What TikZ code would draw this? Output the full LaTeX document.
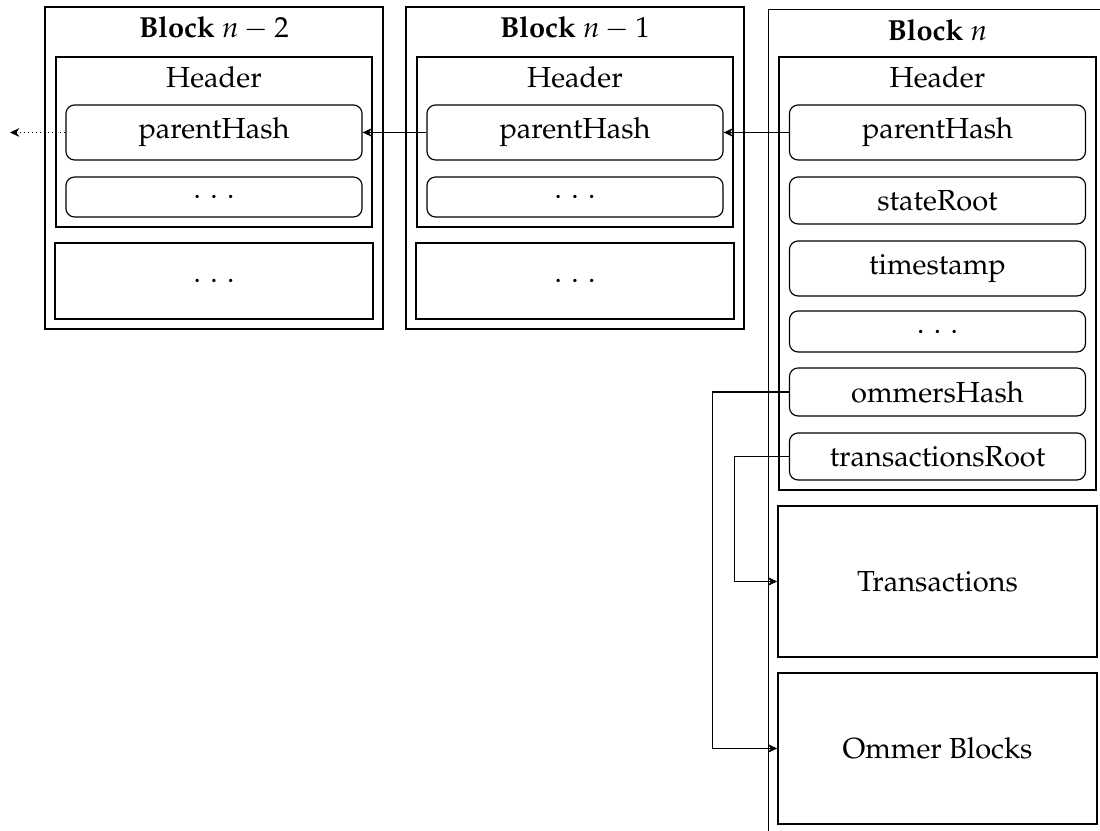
\documentclass[tikz,border=0pt]{standalone}
\usepackage[T1]{fontenc}
\usepackage{mathpazo}
\usetikzlibrary{arrows.meta,positioning}
\newcommand{\wdots}{.\hspace{3.3pt}.\hspace{3.3pt}.}
\tikzset{
  blockbox/.style={draw, line width=0.5pt, minimum width=4.097cm, inner sep=0pt},
  headerbox/.style={draw, line width=0.5pt, minimum width=3.830cm, inner sep=0pt},
  fieldbox/.style={draw, line width=0.4pt, rounded corners=3pt,
    minimum width=3.588cm, inner sep=0pt},
  bodybox/.style={draw, line width=0.5pt, minimum width=3.855cm, inner sep=0pt},
  titletext/.style={anchor=base, font=\normalsize},
  link/.style={-{Stealth[length=3.2pt, width=3pt, inset=1pt]}, line width=0.4pt}
}

\begin{document}
\begin{tikzpicture}[x=0.01212cm, y=-0.01212cm]
  \useasboundingbox (0,0) rectangle (1100,831);

  % Block n-2
  \node[blockbox, minimum height=3.903cm] (blkA) at (214,168) {};
  \node[titletext] (titA) at (214,38) {\textbf{Block} $n-2$};
  \node[headerbox, minimum height=2.061cm] (hdA) at (214,142) {};
  \node[titletext] (hdtA) at (214,88) {Header};
  \node[fieldbox, minimum height=0.667cm] (phA) at (214,132.5) {parentHash};
  \node[fieldbox, minimum height=0.485cm] (fdA) at (214,197) {\wdots};
  \node[bodybox, minimum height=0.921cm] (bdA) at (214,281) {\wdots};

  % Block n-1
  \node[blockbox, minimum height=3.903cm] (blkB) at (575,168) {};
  \node[titletext] (titB) at (575,38) {\textbf{Block} $n-1$};
  \node[headerbox, minimum height=2.061cm] (hdB) at (575,142) {};
  \node[titletext] (hdtB) at (575,88) {Header};
  \node[fieldbox, minimum height=0.667cm] (phB) at (575,132.5) {parentHash};
  \node[fieldbox, minimum height=0.485cm] (fdB) at (575,197) {\wdots};
  \node[bodybox, minimum height=0.921cm] (bdB) at (575,281) {\wdots};

  % Block n
  \node[blockbox, anchor=north west, minimum width=4.109cm, minimum height=10.13cm] (blkC) at (768,9) {};
  \node[titletext] (titC) at (937.5,40.5) {\textbf{Block} $n$};
  \node[headerbox, minimum width=3.842cm, minimum height=5.248cm] (hdC) at (937.5,273.5) {};
  \node[titletext] (hdtC) at (937.5,88) {Header};
  \node[fieldbox, minimum height=0.667cm] (phC) at (937.5,132.5) {parentHash};
  \node[fieldbox, minimum height=0.570cm] (srC) at (937.5,200.5) {stateRoot};
  \node[fieldbox, minimum height=0.667cm] (tsC) at (937.5,268.5) {timestamp};
  \node[fieldbox, minimum height=0.497cm] (fdC) at (937.5,331.5) {\wdots};
  \node[fieldbox, minimum height=0.582cm] (omC) at (937.5,392) {ommersHash};
  \node[fieldbox, minimum height=0.570cm] (trC) at (937.5,456.5) {transactionsRoot};
  \node[bodybox, minimum width=3.867cm, minimum height=1.830cm] (txs) at (937.5,581.5) {Transactions};
  \node[bodybox, minimum width=3.867cm, minimum height=1.830cm] (omb) at (937.5,748.5) {Ommer Blocks};

  % links
  \coordinate (prev) at (10,132.5);
  \draw[link] (phC.west) -- (phB.east);
  \draw[link] (phB.west) -- (phA.east);
  \draw[link, densely dotted] (phA.west) -- (prev);
  \draw[link] (trC.west) -- ++(-54,0) |- (txs.west);
  \draw[link] (omC.west) -- ++(-76,0) |- (omb.west);
\end{tikzpicture}
\end{document}
